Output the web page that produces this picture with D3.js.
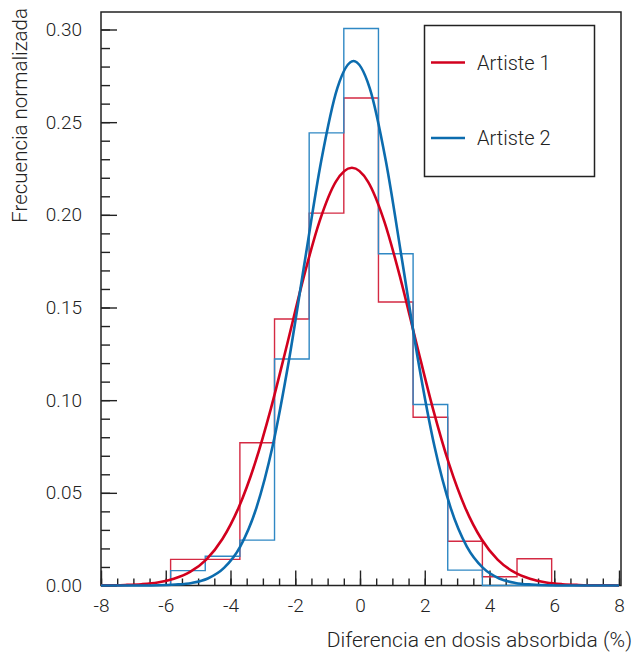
<!DOCTYPE html>
<html>
<head>
<meta charset="utf-8">
<script src="https://cdn.jsdelivr.net/npm/d3@7"></script>
<style>
	body { margin: 0; background: #fff; }
	svg text { font-family: Roboto, "Liberation Sans", sans-serif; font-weight: 300; fill: #222; }
</style>
</head>
<body>
<div id="chart"></div>
<script>
let seriesNames = ["Artiste 1", "Artiste 2"];
let colors = ["#d2001e", "#0c6cae"];
let histColors = ["#d42a43", "#2f88c4"];

// histogram bins (same edges for both series)
let binEdges = [-5.85, -4.78, -3.71, -2.64, -1.57, -0.5, 0.57, 1.64, 2.71, 3.78, 4.85, 5.92];
let artiste1Hist = [0.0141, 0.0141, 0.077, 0.1438, 0.2009, 0.263, 0.153, 0.0908, 0.0239, 0.0047, 0.0144];
let artiste2Hist = [0.0080, 0.0158, 0.0245, 0.1222, 0.2442, 0.3005, 0.179, 0.0977, 0.0083, 0, 0];

// fitted curves
let curve1X = [-8, -7.75, -7.25, -6.75, -6.25, -5.75, -5.25, -4.75, -4.25, -3.75, -3.25, -2.75, -2.25, -1.75, -1.25, -0.75, -0.25,
	0.25, 0.75, 1.25, 1.75, 2.25, 2.75, 3.25, 3.75, 4.25, 4.75, 5.25, 5.75, 6.25, 6.75, 7.25, 7.75, 8];
let curve1Y = [0.0001, 0.0001, 0.0003, 0.0007, 0.0016, 0.0036, 0.0073, 0.014, 0.0251, 0.042, 0.0656, 0.0956, 0.1302, 0.1656, 0.1965, 0.2178, 0.2254,
	0.2178, 0.1965, 0.1656, 0.1302, 0.0956, 0.0656, 0.042, 0.0251, 0.014, 0.0073, 0.0036, 0.0016, 0.0007, 0.0003, 0.0001, 0.0001, 0];
let curve2X = [-8, -7.7, -7.2, -6.7, -6.2, -5.7, -5.2, -4.7, -4.2, -3.7, -3.2, -2.7, -2.2, -1.7, -1.2, -0.7, -0.2,
	0.3, 0.8, 1.3, 1.8, 2.3, 2.8, 3.3, 3.8, 4.3, 4.8, 5.3, 5.8, 6.3, 6.8, 7.3, 7.8, 8];
let curve2Y = [0, 0, 0, 0, 0.0001, 0.0005, 0.0014, 0.0038, 0.0095, 0.021, 0.0419, 0.0751, 0.121, 0.1755, 0.2289, 0.2684, 0.283,
	0.2684, 0.2289, 0.1755, 0.121, 0.0751, 0.0419, 0.021, 0.0095, 0.0038, 0.0014, 0.0005, 0.0001, 0, 0, 0, 0, 0];

let xTicks = [-8, -6, -4, -2, 0, 2, 4, 6, 8];
let yTicks = [0, 0.05, 0.1, 0.15, 0.2, 0.25, 0.3];

var w = 633,
	h = 655;

let svg = d3.select("#chart").append("svg").attr("width", w).attr("height", h);

let x = d3.scaleLinear().domain([-8, 8]).range([101, 619]);
let y = d3.scaleLinear().domain([0, 0.3]).range([585.5, 29.5]);

// frame
svg.append("rect")
	.attr("x", 101)
	.attr("y", 12)
	.attr("width", 520)
	.attr("height", 573.5)
	.attr("fill", "none")
	.attr("stroke", "#222")
	.attr("stroke-width", 1.5);

// minor ticks
svg.append("g")
	.attr("transform", "translate(0,585.5)")
	.call(d3.axisBottom(x).tickValues(d3.range(-8, 8.01, 0.5)).tickSize(-7).tickFormat(""))
	.call((g) => g.select(".domain").remove());
svg.append("g")
	.attr("transform", "translate(101,0)")
	.call(d3.axisLeft(y).tickValues(d3.range(0, 0.3001, 0.01)).tickSize(-9).tickFormat(""))
	.call((g) => g.select(".domain").remove());

// major ticks + labels
let xAxis = svg.append("g")
	.attr("transform", "translate(0,585.5)")
	.call(d3.axisBottom(x).tickValues(xTicks).tickSize(-15).tickPadding(13).tickFormat((d) => String(d)));
let yAxis = svg.append("g")
	.attr("transform", "translate(101,0)")
	.call(d3.axisLeft(y).tickValues(yTicks).tickSize(-16).tickPadding(19).tickFormat(d3.format(".2f")));

[xAxis, yAxis].forEach((g) => {
	g.select(".domain").remove();
	g.selectAll("text").attr("font-size", 19).attr("font-family", null).attr("fill", "#222");
});
svg.selectAll(".tick line").attr("stroke", "#222").attr("stroke-width", 1.4);

// histograms, drawn as step outlines
let stepLine = d3.line()
	.x((d) => x(d[0]))
	.y((d) => y(d[1]));

[artiste1Hist, artiste2Hist].forEach((vals, s) => {
	let pts = [[binEdges[0], 0]];
	vals.forEach((v, i) => {
		pts.push([binEdges[i], v]);
		pts.push([binEdges[i + 1], v]);
	});
	pts.push([binEdges[binEdges.length - 1], 0]);

	svg.append("path")
		.datum(pts)
		.attr("d", stepLine)
		.attr("fill", "none")
		.attr("stroke", histColors[s])
		.attr("stroke-width", 1.4);
});

// curves
let line = d3.line()
	.x((d) => x(d[0]))
	.y((d) => y(d[1]))
	.curve(d3.curveMonotoneX);

[[curve1X, curve1Y], [curve2X, curve2Y]].forEach((c, s) => {
	svg.append("path")
		.datum(c[0].map((v, i) => [v, c[1][i]]))
		.attr("d", line)
		.attr("fill", "none")
		.attr("stroke", colors[s])
		.attr("stroke-width", 2.6);
});

// axis titles
svg.append("text")
	.attr("x", 632)
	.attr("y", 647)
	.attr("text-anchor", "end")
	.attr("font-size", 21)
	.text("Diferencia en dosis absorbida (%)");

svg.append("text")
	.attr("transform", "translate(27,8) rotate(-90)")
	.attr("text-anchor", "end")
	.attr("font-size", 20.5)
	.text("Frecuencia normalizada");

// legend
let legend = svg.append("g");
legend.append("rect")
	.attr("x", 424.5)
	.attr("y", 25.5)
	.attr("width", 170)
	.attr("height", 151)
	.attr("fill", "#fff")
	.attr("stroke", "#222")
	.attr("stroke-width", 1.5);

legend.selectAll("line")
	.data(seriesNames)
	.enter()
	.append("line")
	.attr("x1", 431)
	.attr("x2", 465)
	.attr("y1", (d, i) => 62.5 + i * 75.5)
	.attr("y2", (d, i) => 62.5 + i * 75.5)
	.attr("stroke", (d, i) => colors[i])
	.attr("stroke-width", 2.6);

legend.selectAll("text")
	.data(seriesNames)
	.enter()
	.append("text")
	.attr("x", 477)
	.attr("y", (d, i) => 62.5 + i * 75.5)
	.attr("dy", "0.35em")
	.attr("font-size", 20)
	.text((d) => d);
</script>
</body>
</html>
